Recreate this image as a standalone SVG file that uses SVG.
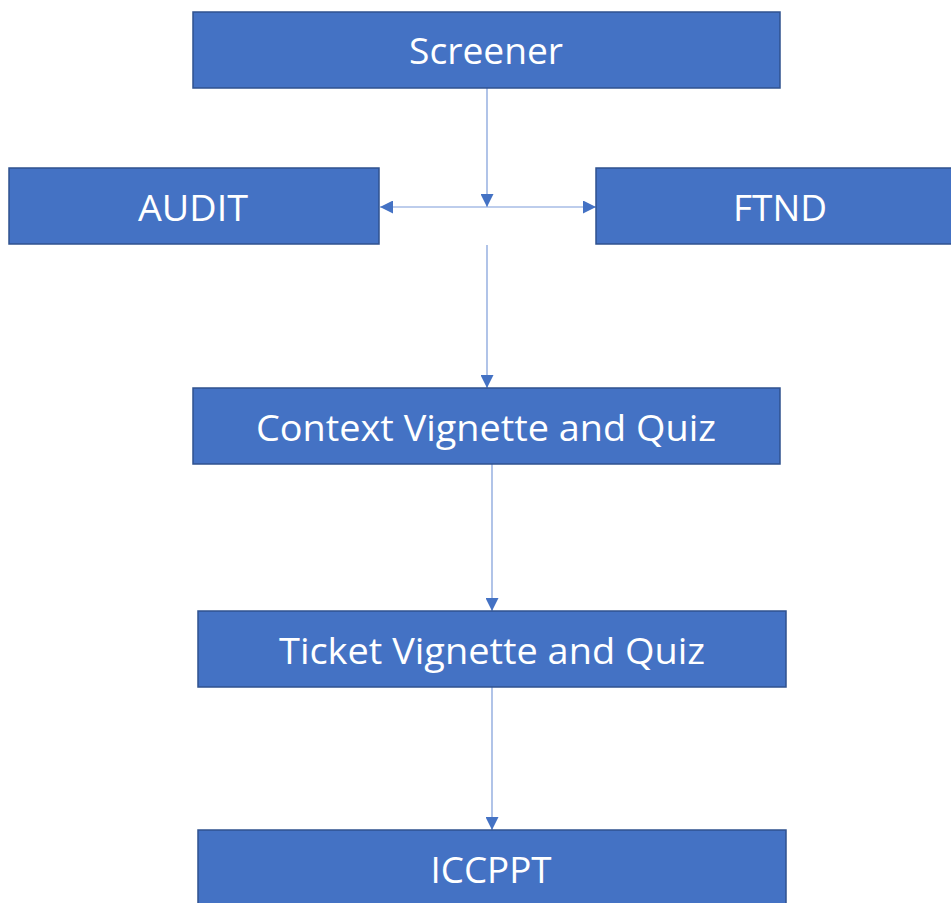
<svg xmlns="http://www.w3.org/2000/svg" width="951" height="903" viewBox="0 0 951 903">
<style>
.box{fill:#4472C4;stroke:#2F528F;stroke-width:1.5}
.lbl{font-family:"Open Sans","Noto Sans",sans-serif;font-size:37px;fill:#ffffff;text-anchor:middle}
.con{stroke:#7C9CD9;stroke-width:1.2;fill:none}
</style>
<defs>
<marker id="ah" viewBox="0 0 10 10" refX="10" refY="5" markerWidth="13" markerHeight="13" markerUnits="userSpaceOnUse" orient="auto">
<path d="M0,0 L10,5 L0,10 Z" fill="#4472C4"/>
</marker>
</defs>
<rect width="951" height="903" fill="#ffffff"/>
<g id="connectors">
<line class="con" x1="487" y1="88" x2="487" y2="207" marker-end="url(#ah)"/>
<line class="con" x1="487" y1="207" x2="380" y2="207" marker-end="url(#ah)"/>
<line class="con" x1="487" y1="207" x2="596" y2="207" marker-end="url(#ah)"/>
<line class="con" x1="487" y1="245" x2="487" y2="388" marker-end="url(#ah)"/>
<line class="con" x1="492" y1="464" x2="492" y2="611" marker-end="url(#ah)"/>
<line class="con" x1="492" y1="687" x2="492" y2="830" marker-end="url(#ah)"/>
</g>
<g id="screener"><rect class="box" x="193" y="12" width="587" height="76"/><text class="lbl" x="486" y="64" textLength="154" lengthAdjust="spacingAndGlyphs">Screener</text></g>
<g id="audit"><rect class="box" x="9" y="168" width="370" height="76"/><text class="lbl" x="193" y="221" textLength="110" lengthAdjust="spacingAndGlyphs">AUDIT</text></g>
<g id="ftnd"><rect class="box" x="596" y="168" width="360" height="76"/><text class="lbl" x="780" y="221" textLength="94" lengthAdjust="spacingAndGlyphs">FTND</text></g>
<g id="context"><rect class="box" x="193" y="388" width="587" height="76"/><text class="lbl" x="486" y="441" textLength="460" lengthAdjust="spacingAndGlyphs">Context Vignette and Quiz</text></g>
<g id="ticket"><rect class="box" x="198" y="611" width="588" height="76"/><text class="lbl" x="492" y="664" textLength="426" lengthAdjust="spacingAndGlyphs">Ticket Vignette and Quiz</text></g>
<g id="iccppt"><rect class="box" x="198" y="830" width="588" height="80"/><text class="lbl" x="491" y="883" textLength="121" lengthAdjust="spacingAndGlyphs">ICCPPT</text></g>
</svg>
